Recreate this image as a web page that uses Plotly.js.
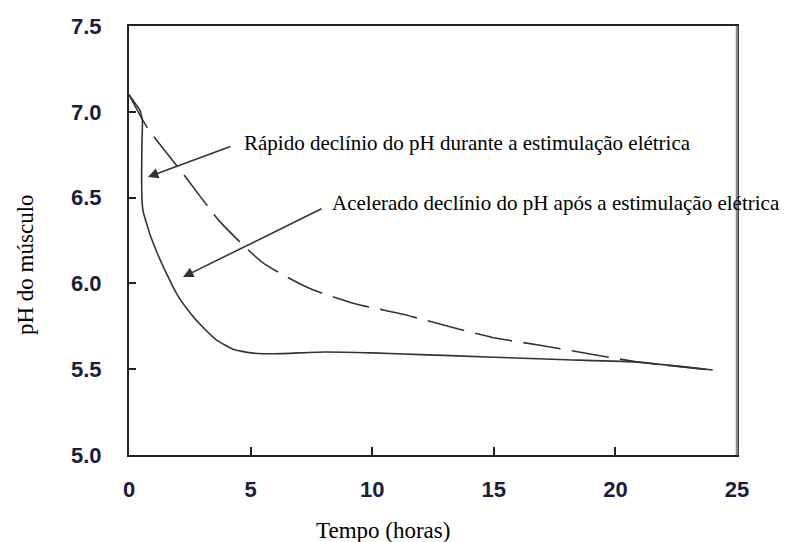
<!DOCTYPE html>
<html>
<head>
<meta charset="utf-8">
<script src="https://cdn.plot.ly/plotly-3.0.1.min.js"></script>
<style>html,body{margin:0;padding:0;background:#fff;}#chart{width:785px;height:542px;}</style>
</head>
<body>
<div id="chart"></div>
<script>
// Solid curve: with electrical stimulation
var stimHours = [0, 0.25, 0.45, 0.55, 0.53, 0.52, 0.53, 0.58, 0.7, 0.9, 1.15, 1.5, 2.0, 2.5, 3.0, 3.6, 4.3, 5.0, 6, 8, 10, 12, 15, 18, 21, 24];
var stimPH    = [7.10, 7.05, 7.01, 6.95, 6.80, 6.65, 6.50, 6.42, 6.36, 6.27, 6.18, 6.07, 5.93, 5.83, 5.75, 5.67, 5.615, 5.595, 5.59, 5.60, 5.595, 5.585, 5.57, 5.555, 5.54, 5.495];
// Dashed curve: without stimulation
var ctrlHours = [0, 0.74, 2.22, 3.74, 5.51, 7.44, 9.33, 11.27, 13.12, 15.13, 16.9, 18.9, 20.8, 24];
var ctrlPH    = [7.10, 6.91, 6.64, 6.36, 6.12, 5.97, 5.88, 5.82, 5.75, 5.68, 5.64, 5.59, 5.545, 5.495];

var xTitle = "Tempo (horas)";
var yTitle = "pH do músculo";
var note1 = "Rápido declínio do pH durante a estimulação elétrica";
var note2 = "Acelerado declínio do pH após a estimulação elétrica";

var serif = "Liberation Serif, Times New Roman, serif";
var tickFont = {family: "Liberation Sans, Arial, sans-serif", size: 22, color: "#1c1c3c", weight: "bold"};

var traces = [
  {x: stimHours, y: stimPH, mode: "lines", line: {color: "#333", width: 1.6, shape: "spline", smoothing: 0.4}, hoverinfo: "skip"},
  {x: ctrlHours, y: ctrlPH, mode: "lines", line: {color: "#333", width: 1.6, dash: "38px,11px", shape: "spline", smoothing: 0.6}, hoverinfo: "skip"}
];

var layout = {
  width: 785, height: 542,
  margin: {l: 129, r: 48, t: 26, b: 87, pad: 0},
  paper_bgcolor: "#fff", plot_bgcolor: "#fff",
  showlegend: false,
  xaxis: {
    range: [0, 25], dtick: 5, tick0: 0, ticks: "inside", ticklen: 8, tickwidth: 2, tickcolor: "#222",
    showline: true, linecolor: "#222", linewidth: 2, mirror: true, showgrid: false, zeroline: false,
    tickfont: tickFont, ticklabelstandoff: 14, fixedrange: true
  },
  yaxis: {
    range: [5, 7.5], dtick: 0.5, tick0: 5, tickformat: ".1f", ticks: "inside", ticklen: 7, tickwidth: 2, tickcolor: "#222",
    showline: true, linecolor: "#222", linewidth: 2, mirror: true, showgrid: false, zeroline: false,
    tickfont: tickFont, ticklabelstandoff: 21, fixedrange: true
  },
  shapes: [
    {type: "line", xref: "paper", yref: "paper", x0: 1, x1: 1, y0: 0, y1: 1, line: {color: "#888", width: 2.5}}
  ],
  annotations: [
    {xref: "paper", yref: "paper", x: (382.5 - 129) / 608, y: (455 - 530) / 429, xanchor: "center", yanchor: "middle",
     text: xTitle, showarrow: false, font: {family: serif, size: 23, color: "#000"}},
    {xref: "paper", yref: "paper", x: (25 - 129) / 608, y: (455 - 265) / 429, xanchor: "center", yanchor: "middle",
     text: yTitle, textangle: -90, showarrow: false, font: {family: serif, size: 23, color: "#000"}},
    {xref: "paper", yref: "paper", x: (242 - 129) / 608, y: (455 - 143) / 429, xanchor: "left", yanchor: "middle",
     text: note1, showarrow: false, font: {family: serif, size: 21, color: "#000"}},
    {xref: "paper", yref: "paper", x: (330 - 129) / 608, y: (455 - 203) / 429, xanchor: "left", yanchor: "middle",
     text: note2, showarrow: false, font: {family: serif, size: 21, color: "#000"}},
    {xref: "x", yref: "y", x: 0.78, y: 6.62, ax: 84, ay: -31, text: "", showarrow: true,
     arrowhead: 2, arrowsize: 1.3, arrowwidth: 1.6, arrowcolor: "#333", standoff: 0, startstandoff: 0},
    {xref: "x", yref: "y", x: 2.22, y: 6.037, ax: 140, ay: -69, text: "", showarrow: true,
     arrowhead: 2, arrowsize: 1.3, arrowwidth: 1.6, arrowcolor: "#333", standoff: 0, startstandoff: 0}
  ]
};

Plotly.newPlot("chart", traces, layout, {staticPlot: true, displayModeBar: false});
</script>
</body>
</html>
